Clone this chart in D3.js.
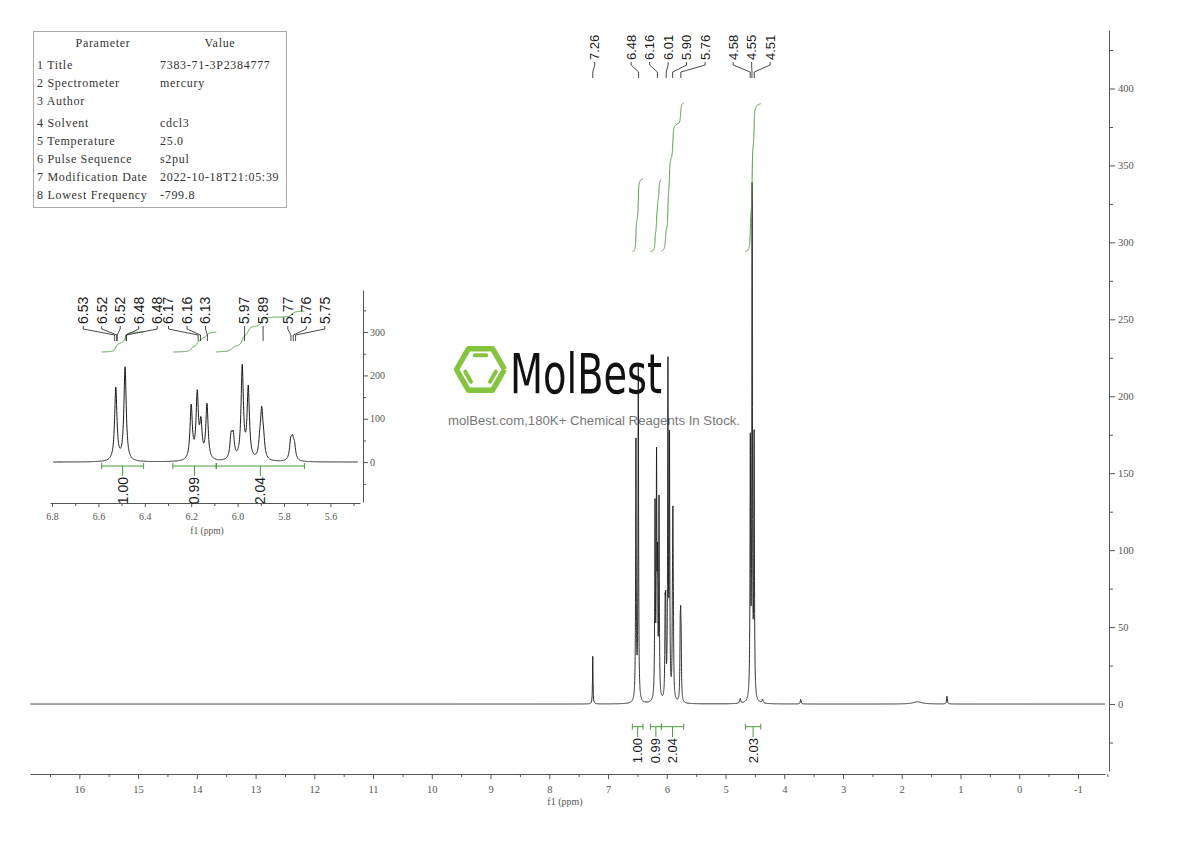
<!DOCTYPE html>
<html lang="en">
<head>
<meta charset="UTF-8">
<title>1H NMR spectrum</title>
<script src="https://d3js.org/d3.v7.min.js"></script>
<style>
  body { margin: 0; background: #fff; }
</style>
</head>
<body>
<div id="chart"></div>
<script>
// peak list: shift (ppm), intensity, half width (ppm)
const peakPpm    = [7.26, 6.525, 6.485, 6.200, 6.174, 6.158, 6.132, 6.028, 6.019, 5.980, 5.954,
                    5.904, 5.896, 5.888, 5.771, 5.763, 5.755, 4.75, 4.578, 4.547, 4.513, 4.37, 3.72, 1.73, 1.23];
const peakHeight = [31, 168, 216, 123, 148, 77, 127, 50, 50, 214, 164,
                    35, 100, 35, 40, 38, 30, 3, 163, 328, 167, 2.5, 3, 1.5, 5];
const peakGamma  = [0.005, 0.006, 0.006, 0.006, 0.006, 0.006, 0.006, 0.006, 0.006, 0.006, 0.006,
                    0.006, 0.006, 0.006, 0.006, 0.006, 0.006, 0.01, 0.006, 0.006, 0.006, 0.01, 0.008, 0.09, 0.008];

// integral regions
const integralFrom  = [6.586, 6.279, 6.092, 4.661];
const integralTo    = [6.405, 6.092, 5.712, 4.400];
const integralValue = ["1.00", "0.99", "2.04", "2.03"];
const insetIntegrals = [0, 1, 2];

// peak labels
const mainLabelGroups  = [["7.26"], ["6.48", "6.16", "6.01", "5.90", "5.76"], ["4.58", "4.55", "4.51"]];
const insetLabelGroups = [["6.53", "6.52", "6.52", "6.48", "6.48"], ["6.17", "6.16", "6.13"], ["5.97", "5.89"], ["5.77", "5.76", "5.75"]];

// ticks
const xTicks      = [16, 15, 14, 13, 12, 11, 10, 9, 8, 7, 6, 5, 4, 3, 2, 1, 0, -1];
const yTicks      = [0, 50, 100, 150, 200, 250, 300, 350, 400];
const insetXTicks = [6.8, 6.6, 6.4, 6.2, 6.0, 5.8, 5.6];
const insetYTicks = [0, 100, 200, 300];

// acquisition parameters
const paramNames  = ["1 Title", "2 Spectrometer", "3 Author", "4 Solvent", "5 Temperature", "6 Pulse Sequence", "7 Modification Date", "8 Lowest Frequency"];
const paramValues = ["7383-71-3P2384777", "mercury", "", "cdcl3", "25.0", "s2pul", "2022-10-18T21:05:39", "-799.8"];

const W = 1190, H = 841;
const ink = "#1a1a1a", green = "#4a9a3c", axisCol = "#555";
const sans = "'Liberation Sans', Arial, sans-serif";
const serif = "'Liberation Serif', 'Times New Roman', serif";

const svg = d3.select("#chart").append("svg")
    .attr("width", W).attr("height", H)
    .style("background", "#fff");

// spectrum = sum of lorentzian lines
function intensity(p) {
    let s = 0;
    for (let i = 0; i < peakPpm.length; i++) {
        const d = p - peakPpm[i], g = peakGamma[i];
        s += peakHeight[i] * g * g / (d * d + g * g);
    }
    return s;
}
let grid = d3.range(-1.46, 16.84, 0.005)
    .concat(d3.range(4.3, 6.75, 0.0008))
    .concat(peakPpm);
grid = grid.sort((a, b) => b - a);
const spec = grid.map(p => ({ p: p, v: intensity(p) }));

// ---------- main scales ----------
const x = d3.scaleLinear().domain([16.84, -1.46]).range([30, 1105]);
const y = d3.scaleLinear().domain([-43.5, 438]).range([771, 30]);

// watermark (under the trace)
const wm = svg.append("g");
const hx = 480.5, hy = 369.5, hr = 24;
const hex = d3.range(7).map(i => [hx + hr * Math.cos(i * Math.PI / 3), hy + hr * Math.sin(i * Math.PI / 3)]);
wm.append("path").attr("d", d3.line()(hex))
    .attr("fill", "none").attr("stroke", "#86c440").attr("stroke-width", 5.5)
    .attr("stroke-linejoin", "round");
const ri = 16.5;
[[4, 5], [2, 3], [0, 1]].forEach(([a, b]) => {
    const p1 = [hx + ri * Math.cos(a * Math.PI / 3), hy + ri * Math.sin(a * Math.PI / 3)];
    const p2 = [hx + ri * Math.cos(b * Math.PI / 3), hy + ri * Math.sin(b * Math.PI / 3)];
    const k = 0.15;
    wm.append("line")
        .attr("x1", p1[0] + (p2[0] - p1[0]) * k).attr("y1", p1[1] + (p2[1] - p1[1]) * k)
        .attr("x2", p2[0] - (p2[0] - p1[0]) * k).attr("y2", p2[1] - (p2[1] - p1[1]) * k)
        .attr("stroke", "#86c440").attr("stroke-width", 4).attr("stroke-linecap", "round");
});
wm.append("text").attr("x", 510).attr("y", 393)
    .attr("textLength", 152).attr("lengthAdjust", "spacingAndGlyphs")
    .style("font-family", "'DejaVu Sans Condensed', 'DejaVu Sans', sans-serif")
    .style("font-size", "55px").attr("fill", "#111").text("MolBest");
wm.append("text").attr("x", 448).attr("y", 425)
    .attr("textLength", 292).attr("lengthAdjust", "spacingAndGlyphs")
    .style("font-family", sans).style("font-size", "12.5px").attr("fill", "#777")
    .text("molBest.com,180K+ Chemical Reagents In Stock.");

// main trace
svg.append("path").datum(spec)
    .attr("d", d3.line().x(d => x(d.p)).y(d => y(d.v)))
    .attr("fill", "none").attr("stroke", ink).attr("stroke-width", 0.9);

// main x axis
svg.append("g").attr("transform", "translate(0,774)")
    .call(d3.axisBottom(x).tickValues(xTicks).tickSize(5).tickSizeOuter(0).tickPadding(7).tickFormat(d => String(d)));
svg.append("g").attr("transform", "translate(0,774)")
    .call(d3.axisBottom(x).tickValues(xTicks.map(t => t + 0.5).concat([-1.5 + 0.0])).tickSize(3).tickSizeOuter(0).tickFormat(""))
    .select(".domain").remove();
svg.append("text").attr("x", 565).attr("y", 805).attr("text-anchor", "middle")
    .style("font-family", serif).style("font-size", "10px").attr("fill", axisCol).text("f1 (ppm)");

// main y axis (right)
svg.append("g").attr("transform", "translate(1109,0)")
    .call(d3.axisRight(y).tickValues(yTicks).tickSize(6).tickSizeOuter(0).tickPadding(3).tickFormat(d => String(d)));
svg.append("g").attr("transform", "translate(1109,0)")
    .call(d3.axisRight(y).tickValues(yTicks.map(t => t + 25).concat([-25])).tickSize(4).tickSizeOuter(0).tickFormat(""))
    .select(".domain").remove();

svg.selectAll(".tick text").style("font-family", serif).style("font-size", "10.5px").attr("fill", axisCol);
svg.selectAll(".tick line").attr("stroke", axisCol);
svg.selectAll(".domain").attr("stroke", axisCol);

// integral helpers
function integralCurve(i, xs, base, perUnit) {
    const pts = spec.filter(d => d.p <= integralFrom[i] && d.p >= integralTo[i]);
    let acc = 0;
    const cum = pts.map((d, k) => {
        if (k > 0) acc += (pts[k - 1].v + d.v) / 2 * (pts[k - 1].p - d.p);
        return acc;
    });
    const val = +integralValue[i];
    return pts.map((d, k) => [xs(d.p), base - cum[k] / acc * val * perUnit]);
}

// main integral curves
integralFrom.forEach((f, i) => {
    svg.append("path").attr("d", d3.line()(integralCurve(i, x, 251.7, 72.9)))
        .attr("fill", "none").attr("stroke", green).attr("stroke-width", 1);
});

// integral brackets + values
function brackets(g, xs, yb, textTop, fontSize, idx) {
    idx.forEach(i => {
        const x1 = xs(integralFrom[i]), x2 = xs(integralTo[i]), xm = (x1 + x2) / 2;
        g.append("line").attr("x1", x1).attr("x2", x2).attr("y1", yb).attr("y2", yb).attr("stroke", green);
        [x1, x2].forEach(xx => g.append("line").attr("x1", xx).attr("x2", xx).attr("y1", yb - 3).attr("y2", yb + 3).attr("stroke", green));
        g.append("line").attr("x1", xm).attr("x2", xm).attr("y1", yb).attr("y2", textTop - 1).attr("stroke", green);
        g.append("text").attr("transform", `translate(${xm},${textTop}) rotate(-90)`)
            .attr("text-anchor", "end").attr("dy", "0.35em")
            .style("font-family", sans).style("font-size", fontSize).attr("fill", ink)
            .text(integralValue[i]);
    });
}
brackets(svg, x, 726.7, 738, "13px", [0, 1, 2, 3]);

// peak labels with leader lines
function peakLabels(g, xs, groups, shifts, yText, yFoot, fontSize) {
    groups.forEach((labels, gi) => {
        const px = labels.map(l => xs(+l));
        const sp = 18.5;
        const c = d3.mean(px) + shifts[gi];
        labels.forEach((l, k) => {
            const lx = c + (k - (labels.length - 1) / 2) * sp;
            g.append("text").attr("transform", `translate(${lx},${yText}) rotate(-90)`)
                .attr("dy", "0.35em").attr("text-anchor", "start")
                .style("font-family", sans).style("font-size", fontSize).attr("fill", ink).text(l);
            g.append("path")
                .attr("d", d3.line()([[lx, yText + 2], [lx, yText + 5], [px[k], yFoot - 6], [px[k], yFoot]]))
                .attr("fill", "none").attr("stroke", ink).attr("stroke-width", 0.8);
        });
    });
}
peakLabels(svg, x, mainLabelGroups, [2, 5, -0.5], 60, 78, "13px");

// ---------- inset ----------
const inset = svg.append("g");
const xi = d3.scaleLinear().domain([6.8086, 5.4724]).range([50, 360]);
const yi = d3.scaleLinear().domain([-92, 397]).range([502, 290]);
const insetSpec = spec.filter(d => xi(d.p) >= 52 && xi(d.p) <= 358);
inset.append("path").datum(insetSpec)
    .attr("d", d3.line().x(d => xi(d.p)).y(d => yi(d.v)))
    .attr("fill", "none").attr("stroke", ink).attr("stroke-width", 1);

inset.append("g").attr("transform", "translate(0,503)")
    .call(d3.axisBottom(xi).tickValues(insetXTicks).tickSize(4).tickSizeOuter(0).tickPadding(6).tickFormat(d3.format(".1f")));
inset.append("g").attr("transform", "translate(0,503)")
    .call(d3.axisBottom(xi).tickValues([6.7, 6.5, 6.3, 6.1, 5.9, 5.7, 5.5]).tickSize(3).tickFormat(""))
    .select(".domain").remove();
inset.append("text").attr("x", 207).attr("y", 534).attr("text-anchor", "middle")
    .style("font-family", serif).style("font-size", "9.5px").attr("fill", axisCol).text("f1 (ppm)");
inset.append("g").attr("transform", "translate(363,0)")
    .call(d3.axisRight(yi).tickValues(insetYTicks).tickSize(5).tickSizeOuter(0).tickPadding(2).tickFormat(d => String(d)));
inset.append("g").attr("transform", "translate(363,0)")
    .call(d3.axisRight(yi).tickValues([-50, 50, 150, 250, 350]).tickSize(3).tickFormat(""))
    .select(".domain").remove();
inset.selectAll(".tick text").style("font-family", serif).style("font-size", "10px").attr("fill", axisCol);
inset.selectAll(".tick line").attr("stroke", axisCol);
inset.selectAll(".domain").attr("stroke", axisCol);

insetIntegrals.forEach(i => {
    inset.append("path").attr("d", d3.line()(integralCurve(i, xi, 352, 20)))
        .attr("fill", "none").attr("stroke", green).attr("stroke-width", 1);
});
brackets(inset, xi, 466, 477, "14px", insetIntegrals);
peakLabels(inset, xi, insetLabelGroups, [0, -15, 0, 13], 324, 341, "14px");

// ---------- parameter table ----------
const tbl = svg.append("g");
tbl.append("rect").attr("x", 33.5).attr("y", 31.5).attr("width", 253).attr("height", 176)
    .attr("fill", "#fff").attr("stroke", "#aaa");
const tStyle = s => s.style("font-family", serif).style("font-size", "12px")
    .style("letter-spacing", "0.7px").attr("fill", "#333");
tStyle(tbl.append("text").attr("x", 103).attr("y", 47).attr("text-anchor", "middle").text("Parameter"));
tStyle(tbl.append("text").attr("x", 220).attr("y", 47).attr("text-anchor", "middle").text("Value"));
paramNames.forEach((n, i) => {
    const ry = 69 + i * 18 + (i >= 3 ? 4 : 0);
    tStyle(tbl.append("text").attr("x", 37).attr("y", ry).text(n));
    tStyle(tbl.append("text").attr("x", 160).attr("y", ry).text(paramValues[i]));
});
</script>
</body>
</html>
